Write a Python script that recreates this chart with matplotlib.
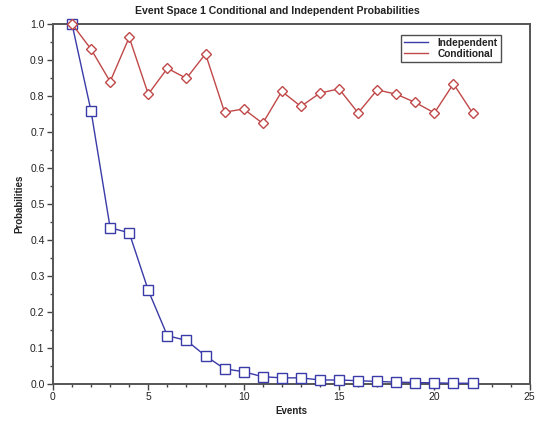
import matplotlib
matplotlib.use("Agg")
import matplotlib.pyplot as plt
from matplotlib.ticker import MultipleLocator, FormatStrFormatter

plt.rcParams['font.family'] = ['Liberation Sans', 'DejaVu Sans']

events = list(range(1, 23))
independent = [1.0, 0.758, 0.434, 0.42, 0.26, 0.134, 0.121, 0.078, 0.042, 0.034,
               0.02, 0.017, 0.017, 0.011, 0.011, 0.009, 0.007, 0.005, 0.004, 0.003,
               0.002, 0.002]
conditional = [1.0, 0.93, 0.84, 0.963, 0.805, 0.877, 0.849, 0.917, 0.755, 0.764,
               0.724, 0.813, 0.771, 0.808, 0.82, 0.753, 0.817, 0.805, 0.782, 0.753,
               0.834, 0.753]

blue = '#3a3aa8'
red = '#c04848'

fig = plt.figure(figsize=(5.4, 4.21), dpi=100)
ax = fig.add_axes([0.098, 0.088, 0.883, 0.855])

ax.plot(events, independent, color=blue, lw=1.0, marker='s', ms=6.5,
        mfc='white', mec=blue, mew=1.0, label='Independent', clip_on=False, zorder=3)
ax.plot(events, conditional, color=red, lw=1.0, marker='D', ms=5.5,
        mfc='white', mec=red, mew=1.0, label='Conditional', clip_on=False, zorder=3)

ax.set_xlim(0, 25)
ax.set_ylim(0, 1.0)
ax.xaxis.set_major_locator(MultipleLocator(5))
ax.xaxis.set_minor_locator(MultipleLocator(1))
ax.yaxis.set_major_locator(MultipleLocator(0.1))
ax.yaxis.set_minor_locator(MultipleLocator(0.05))
ax.yaxis.set_major_formatter(FormatStrFormatter('%.1f'))

ax.tick_params(which='major', direction='out', length=4, width=1, color='#444444',
               labelsize=7.5, labelcolor='#222222', pad=2)
ax.tick_params(which='minor', direction='out', length=2.5, width=1, color='#444444')

for s in ax.spines.values():
    s.set_color('#555555')
    s.set_linewidth(1.4)

fig.text(0.513, 0.974, 'Event Space 1 Conditional and Independent Probabilities',
         ha='center', va='center', fontsize=7.6, fontweight='bold', color='#222222')
ax.set_xlabel('Events', fontsize=7, fontweight='bold', color='#222222', labelpad=3)
ax.set_ylabel('Probabilities', fontsize=7, fontweight='bold', color='#222222', labelpad=4)

leg = ax.legend(loc='upper right', bbox_to_anchor=(0.939, 0.970), fontsize=7.3,
                frameon=True, fancybox=False, handlelength=2.4, handletextpad=0.9,
                borderpad=0.3, labelspacing=0.1, borderaxespad=0)
leg.get_frame().set_edgecolor('#222222')
leg.get_frame().set_linewidth(1.0)
for h in leg.get_lines():
    h.set_marker('')
for t in leg.get_texts():
    t.set_fontweight('bold')
    t.set_color('#222222')

fig.savefig('out.png', dpi=100)
